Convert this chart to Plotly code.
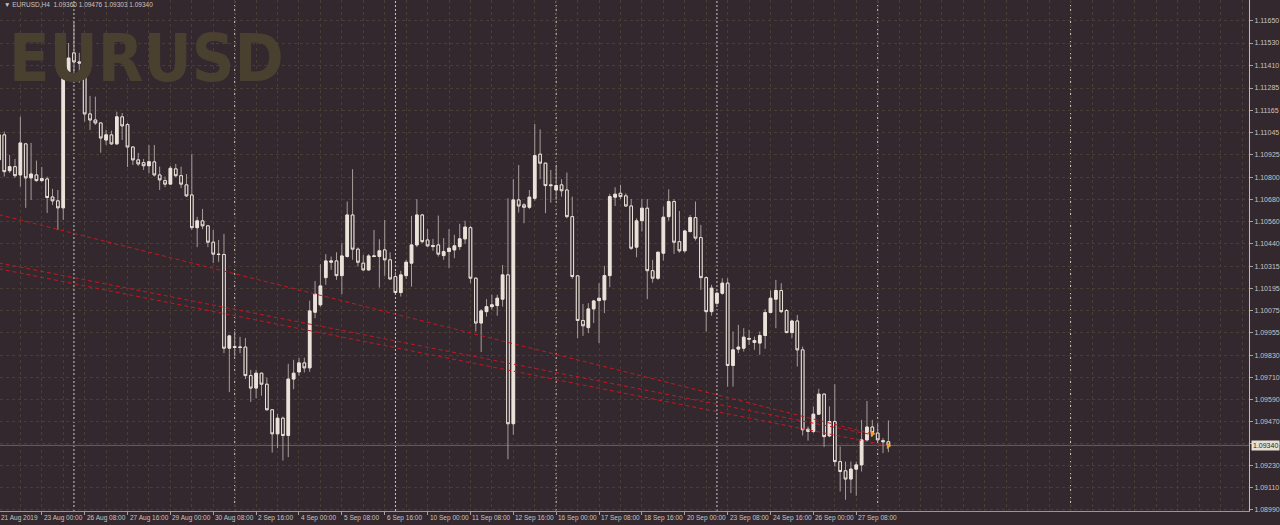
import pandas as pd
import plotly.graph_objects as go

symbol = "EURUSD"
timeframe = "H4"

# H4 bars, weekdays only: 21 Aug 2019 16:00 -> 30 Sep 2019 08:00
days = pd.bdate_range("2019-08-21", "2019-09-30")
times = [d + pd.Timedelta(hours=h) for d in days for h in range(0, 24, 4)]
times = [t for t in times if pd.Timestamp("2019-08-21 16:00") <= t <= pd.Timestamp("2019-09-30 08:00")]

opens = [
    1.10894, 1.11030, 1.10835, 1.10857, 1.10812, 1.10981, 1.10796, 1.10812, 1.10781, 1.10790,
    1.10692, 1.10671, 1.10633, 1.11372, 1.11476, 1.11427, 1.11428, 1.11144, 1.11111, 1.11095,
    1.11002, 1.11030, 1.10981, 1.11128, 1.11086, 1.10964, 1.10894, 1.10879, 1.10862, 1.10883,
    1.10812, 1.10781, 1.10762, 1.10845, 1.10808, 1.10758, 1.10703, 1.10525, 1.10562, 1.10535,
    1.10446, 1.10381, 1.10379, 1.09869, 1.09878, 1.09873, 1.09875, 1.09720, 1.09652, 1.09733,
    1.09673, 1.09534, 1.09403, 1.09488, 1.09394, 1.09701, 1.09740, 1.09789, 1.09762, 1.10065,
    1.10105, 1.10253, 1.10337, 1.10344, 1.10264, 1.10368, 1.10594, 1.10408, 1.10332, 1.10295,
    1.10368, 1.10368, 1.10404, 1.10350, 1.10259, 1.10172, 1.10264, 1.10332, 1.10431, 1.10594,
    1.10458, 1.10422, 1.10431, 1.10373, 1.10395, 1.10404, 1.10422, 1.10464, 1.10525, 1.10250,
    1.10006, 1.10068, 1.10095, 1.10101, 1.10136, 1.10268, 1.09458, 1.10676, 1.10649, 1.10636,
    1.10685, 1.10925, 1.10876, 1.10758, 1.10730, 1.10758, 1.10730, 1.10585, 1.10263, 1.10020,
    1.09981, 1.10083, 1.10128, 1.10132, 1.10264, 1.10691, 1.10712, 1.10698, 1.10643, 1.10419,
    1.10563, 1.10631, 1.10291, 1.10250, 1.10386, 1.10585, 1.10667, 1.10449, 1.10399, 1.10504,
    1.10580, 1.10471, 1.10253, 1.10068, 1.10114, 1.10168, 1.10223, 1.09775, 1.09864, 1.09869,
    1.09918, 1.09911, 1.09897, 1.09938, 1.10063, 1.10136, 1.10183, 1.10074, 1.09954, 1.10017,
    1.09860, 1.09428, 1.09416, 1.09510, 1.09619, 1.09392, 1.09470, 1.09252, 1.09202, 1.09157,
    1.09211, 1.09234, 1.09370, 1.09440, 1.09407, 1.09366, 1.09360,
]
highs = [
    1.11084, 1.11048, 1.10921, 1.10899, 1.11129, 1.10986, 1.10986, 1.10890, 1.10855, 1.10803,
    1.10736, 1.10730, 1.11476, 1.11530, 1.11644, 1.11477, 1.11525, 1.11242, 1.11238, 1.11095,
    1.11057, 1.11053, 1.11156, 1.11149, 1.11095, 1.10966, 1.10932, 1.10899, 1.10975, 1.10975,
    1.10857, 1.10803, 1.10861, 1.10872, 1.10857, 1.10817, 1.10926, 1.10584, 1.10627, 1.10540,
    1.10513, 1.10458, 1.10491, 1.09942, 1.09960, 1.09931, 1.09925, 1.09751, 1.09751, 1.09735,
    1.09709, 1.09538, 1.09512, 1.09497, 1.09784, 1.09806, 1.09817, 1.09817, 1.10128, 1.10235,
    1.10326, 1.10381, 1.10368, 1.10391, 1.10440, 1.10667, 1.10843, 1.10417, 1.10377, 1.10381,
    1.10513, 1.10462, 1.10567, 1.10391, 1.10286, 1.10290, 1.10350, 1.10589, 1.10680, 1.10600,
    1.10518, 1.10464, 1.10591, 1.10468, 1.10517, 1.10486, 1.10546, 1.10563, 1.10535, 1.10253,
    1.10082, 1.10136, 1.10160, 1.10160, 1.10322, 1.10685, 1.10789, 1.10866, 1.10658, 1.10730,
    1.11089, 1.11060, 1.10879, 1.10839, 1.10861, 1.10789, 1.10825, 1.10694, 1.10268, 1.10110,
    1.10114, 1.10132, 1.10223, 1.10317, 1.10709, 1.10745, 1.10758, 1.10712, 1.10681, 1.10576,
    1.10680, 1.10681, 1.10350, 1.10395, 1.10640, 1.10734, 1.10680, 1.10616, 1.10513, 1.10594,
    1.10667, 1.10540, 1.10259, 1.10214, 1.10177, 1.10250, 1.10250, 1.09960, 1.09996, 1.09978,
    1.09969, 1.09932, 1.09960, 1.10082, 1.10183, 1.10241, 1.10223, 1.10082, 1.10023, 1.10050,
    1.09878, 1.09443, 1.09552, 1.09648, 1.09621, 1.09552, 1.09673, 1.09334, 1.09252, 1.09252,
    1.09252, 1.09479, 1.09582, 1.09479, 1.09461, 1.09380, 1.09476,
]
lows = [
    1.10866, 1.10803, 1.10823, 1.10796, 1.10748, 1.10633, 1.10676, 1.10775, 1.10775, 1.10605,
    1.10649, 1.10513, 1.10567, 1.11329, 1.11356, 1.11314, 1.11102, 1.11057, 1.11084, 1.10933,
    1.10975, 1.10975, 1.10975, 1.11002, 1.10855, 1.10866, 1.10861, 1.10839, 1.10821, 1.10803,
    1.10730, 1.10745, 1.10758, 1.10800, 1.10740, 1.10691, 1.10513, 1.10419, 1.10517, 1.10419,
    1.10332, 1.10339, 1.09842, 1.09630, 1.09824, 1.09842, 1.09701, 1.09576, 1.09597, 1.09610,
    1.09530, 1.09301, 1.09325, 1.09258, 1.09276, 1.09646, 1.09719, 1.09737, 1.09740, 1.10032,
    1.10095, 1.10214, 1.10295, 1.10241, 1.10163, 1.10362, 1.10350, 1.10313, 1.10291, 1.10291,
    1.10364, 1.10199, 1.10263, 1.10241, 1.10168, 1.10150, 1.10246, 1.10204, 1.10419, 1.10440,
    1.10419, 1.10399, 1.10368, 1.10350, 1.10304, 1.10359, 1.10404, 1.10437, 1.10223, 1.09960,
    1.09848, 1.10041, 1.10078, 1.10046, 1.10095, 1.09265, 1.09398, 1.10607, 1.10549, 1.10626,
    1.10672, 1.10789, 1.10604, 1.10661, 1.10676, 1.10694, 1.10576, 1.10246, 1.09924, 1.09936,
    1.09951, 1.10006, 1.09897, 1.10060, 1.10201, 1.10643, 1.10680, 1.10640, 1.10404, 1.10364,
    1.10504, 1.10136, 1.10226, 1.10241, 1.10346, 1.10563, 1.10382, 1.10389, 1.10389, 1.10498,
    1.10455, 1.10186, 1.09960, 1.10046, 1.10105, 1.10160, 1.09660, 1.09660, 1.09842, 1.09851,
    1.09887, 1.09860, 1.09833, 1.09866, 1.10060, 1.09978, 1.10060, 1.09951, 1.09924, 1.09769,
    1.09394, 1.09366, 1.09407, 1.09506, 1.09331, 1.09385, 1.09225, 1.09089, 1.09044, 1.09080,
    1.09066, 1.09198, 1.09364, 1.09388, 1.09366, 1.09298, 1.09303,
]
closes = [
    1.11030, 1.10830, 1.10857, 1.10808, 1.10986, 1.10796, 1.10817, 1.10781, 1.10792, 1.10689,
    1.10671, 1.10633, 1.11383, 1.11448, 1.11427, 1.11421, 1.11144, 1.11111, 1.11095, 1.11013,
    1.11030, 1.10981, 1.11128, 1.11079, 1.10964, 1.10894, 1.10872, 1.10862, 1.10884, 1.10812,
    1.10785, 1.10762, 1.10848, 1.10808, 1.10762, 1.10698, 1.10525, 1.10562, 1.10535, 1.10446,
    1.10381, 1.10379, 1.09869, 1.09936, 1.09873, 1.09875, 1.09720, 1.09652, 1.09733, 1.09673,
    1.09534, 1.09403, 1.09488, 1.09394, 1.09701, 1.09733, 1.09789, 1.09762, 1.10072, 1.10163,
    1.10208, 1.10344, 1.10344, 1.10264, 1.10371, 1.10594, 1.10408, 1.10337, 1.10295, 1.10371,
    1.10371, 1.10399, 1.10350, 1.10246, 1.10172, 1.10268, 1.10337, 1.10431, 1.10594, 1.10449,
    1.10426, 1.10428, 1.10381, 1.10395, 1.10413, 1.10426, 1.10464, 1.10528, 1.10250, 1.10006,
    1.10072, 1.10095, 1.10105, 1.10141, 1.10268, 1.09458, 1.10676, 1.10643, 1.10636, 1.10691,
    1.10917, 1.10876, 1.10754, 1.10754, 1.10754, 1.10726, 1.10585, 1.10259, 1.10020, 1.09991,
    1.10083, 1.10126, 1.10141, 1.10264, 1.10694, 1.10707, 1.10694, 1.10643, 1.10413, 1.10562,
    1.10631, 1.10291, 1.10250, 1.10391, 1.10582, 1.10667, 1.10446, 1.10399, 1.10507, 1.10580,
    1.10468, 1.10253, 1.10068, 1.10196, 1.10168, 1.10223, 1.09775, 1.09860, 1.09875, 1.09929,
    1.09922, 1.09900, 1.09938, 1.10063, 1.10141, 1.10183, 1.10068, 1.09954, 1.10017, 1.09860,
    1.09425, 1.09416, 1.09510, 1.09619, 1.09388, 1.09470, 1.09252, 1.09198, 1.09157, 1.09211,
    1.09234, 1.09370, 1.09440, 1.09410, 1.09370, 1.09360, 1.09340,
]

price_ticks = [1.11650, 1.11530, 1.11410, 1.11285, 1.11165, 1.11045, 1.10925, 1.10800,
               1.10680, 1.10560, 1.10440, 1.10315, 1.10195, 1.10075, 1.09955, 1.09830,
               1.09710, 1.09590, 1.09470, 1.09350, 1.09230, 1.09110, 1.08990]

# dotted red lines (bar index, price) and the orange trade arrows at their ends
trend_start = [(0, 1.10596), (0, 1.10333), (0, 1.10301)]
trend_end = [(163, 1.09403), (163, 1.09398), (166, 1.09338)]
arrow_bars = [163, 166]
arrow_prices = [1.09403, 1.09338]
extra_vline_bar = 200

bg = "#33282e"
grid = "#4a3d38"
cream = "#e9e3d9"
wick = "#a79e9a"
txt = "#cac3c0"
font = "Liberation Sans"
wm_font = ("Liberation Sans Narrow, Arial Narrow, DejaVu Sans Condensed, Noto Sans Condensed, "
           "Open Sans Condensed, Roboto Condensed, Liberation Sans, sans-serif")
x_start, x_end = 0.2, 233.3

bars = list(range(len(times)))
body_hi = [max(o, c) for o, c in zip(opens, closes)]
body_lo = [min(o, c) for o, c in zip(opens, closes)]

fig = go.Figure()

# wicks (grey), bodies drawn over them
fig.add_trace(go.Candlestick(
    x=bars, open=opens, high=highs, low=lows, close=closes,
    increasing=dict(line=dict(color=wick, width=1), fillcolor=wick),
    decreasing=dict(line=dict(color=wick, width=1), fillcolor=wick),
    hoverinfo="skip"))
fig.add_trace(go.Candlestick(
    x=bars, open=opens, high=body_hi, low=body_lo, close=closes,
    increasing=dict(line=dict(color=cream, width=1), fillcolor=cream),
    decreasing=dict(line=dict(color=cream, width=1), fillcolor=bg)))

for (x0, y0), (x1, y1) in zip(trend_start, trend_end):
    fig.add_trace(go.Scatter(x=[x0, x1], y=[y0, y1], mode="lines",
                             line=dict(color="#c8161f", width=1, dash="4px,3px"),
                             hoverinfo="skip"))

fig.add_trace(go.Scatter(x=arrow_bars, y=arrow_prices, mode="markers",
                         marker=dict(symbol="triangle-right", size=6, color="#f2a127")))

# week separators
seps = [i for i, t in enumerate(times) if t.weekday() == 0 and t.hour == 0] + [extra_vline_bar]
for s in seps:
    fig.add_shape(type="line", xref="x", yref="paper", x0=s, x1=s, y0=0, y1=1,
                  line=dict(color="#cfc8c4", width=1, dash="2px,2px"), layer="below")

# current price line
fig.add_shape(type="line", xref="paper", yref="y", x0=0, x1=1, y0=closes[-1], y1=closes[-1],
              line=dict(color="#6d6157", width=1), layer="below")

label_bars = bars[::8]
for i in label_bars:
    t = times[i]
    lab = f"{t.day} {t.strftime('%b %Y')}" if i == 0 else f"{t.day} {t.strftime('%b %H:%M')}"
    fig.add_annotation(x=max(i, x_start), xref="x", y=0, yref="paper", text=lab, showarrow=False,
                       xanchor="left", yanchor="top", xshift=-1 if i == 0 else 0, yshift=-1,
                       font=dict(family=font, size=6.5, color=txt))

fig.add_annotation(x=147 / 1251, xref="paper", y=1 - 58 / 511, yref="paper", text="<b>EURUSD</b>",
                   showarrow=False, xanchor="center", yanchor="middle",
                   font=dict(family=wm_font, size=66, color="#4a402f"))

fig.add_annotation(x=2 / 1251, xref="paper", y=1 - 5 / 511, yref="paper",
                   text=f"▼ {symbol},{timeframe}  {opens[-1]:.5f} {highs[-1]:.5f} {lows[-1]:.5f} {closes[-1]:.5f}",
                   showarrow=False, xanchor="left", yanchor="middle",
                   font=dict(family=font, size=6.5, color=txt))

fig.add_annotation(x=1, xref="paper", y=closes[-1], yref="y", text=f"{closes[-1]:.5f}",
                   showarrow=False, xanchor="left", yanchor="middle", xshift=2,
                   bgcolor="#e6dfd4", borderpad=1,
                   font=dict(family=font, size=7, color="#2a2226"))

fig.update_layout(
    width=1280, height=525,
    margin=dict(l=0, r=29, t=0, b=14),
    paper_bgcolor=bg, plot_bgcolor=bg,
    showlegend=False,
    xaxis=dict(range=[x_start, x_end], rangeslider=dict(visible=False),
               tickmode="array", tickvals=label_bars, showticklabels=False,
               ticks="outside", ticklen=3, tickcolor="#a8a09c",
               showgrid=True, gridcolor=grid, griddash="3px,3px",
               minor=dict(tick0=0, dtick=4, showgrid=True, gridcolor=grid, griddash="3px,3px", ticks=""),
               showline=True, linecolor="#9d9591", linewidth=1, zeroline=False),
    yaxis=dict(side="right", range=[1.08983, 1.11764],
               tickmode="array", tickvals=price_ticks, tickformat=".5f",
               ticks="outside", ticklen=3, tickcolor="#a8a09c",
               tickfont=dict(family=font, size=7, color=txt),
               showgrid=True, gridcolor=grid, griddash="3px,3px",
               showline=True, linecolor="#c4bcb6", linewidth=1, zeroline=False),
)

fig.write_html("out.html", config={"displayModeBar": False},
               post_script="document.body.style.margin='0';")
